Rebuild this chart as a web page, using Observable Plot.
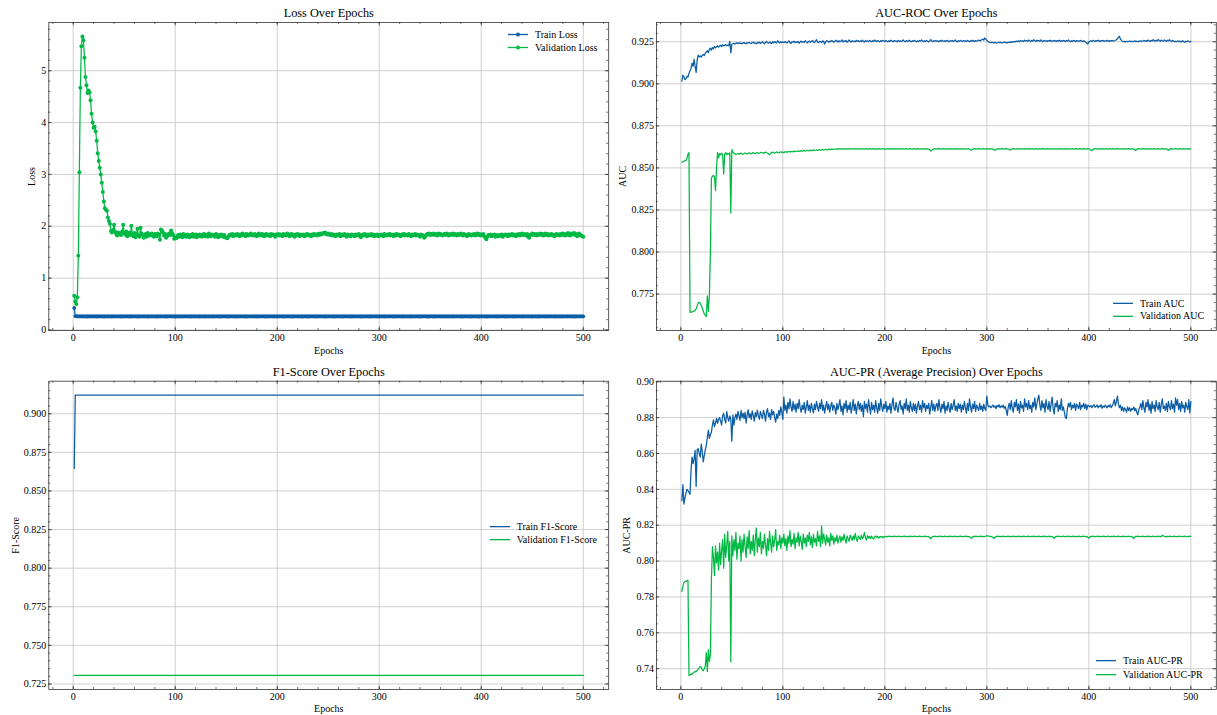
<!DOCTYPE html>
<html>
<head>
<meta charset="utf-8">
<script src="https://cdn.jsdelivr.net/npm/d3@7"></script>
<script src="https://cdn.jsdelivr.net/npm/@observablehq/plot@0.6"></script>
<style>
  body { margin: 0; background: #fff; }
  #fig { position: relative; width: 1217px; height: 715px; font-family: "Liberation Serif", "Times New Roman", serif; }
  .panel { position: absolute; }
  .legend { position: absolute; font-size: 10px; color: #000; }
  .legend .row { display: flex; align-items: center; white-space: nowrap; }
  .legend svg { display: block; }
</style>
</head>
<body>
<div id="fig"></div>
<script>
// ---- Training history (one value per epoch, epochs 1..500) ----

// Validation loss, in hundredths
const valLoss = [
66,55,50,63,143,304,467,547,566,559,525,488,472,457,462,458,443,417,400,390,392,383,365,341,326,
313,300,284,266,248,235,232,230,217,210,205,191,188,193,203,190,186,182,188,184,186,183,190,203,187,
184,190,181,186,188,183,201,185,181,187,179,184,195,182,180,197,186,183,178,181,185,180,187,182,184,
182,186,183,180,185,184,181,186,183,174,194,192,188,182,185,178,181,184,186,183,192,186,183,176,179,
177,181,183,180,184,182,179,185,181,183,180,184,182,179,183,181,185,180,182,184,179,183,181,184,182,
180,183,185,181,184,182,180,186,183,181,184,182,183,180,185,182,179,183,181,184,182,180,183,179,178,
177,180,183,184,182,185,181,183,184,182,185,183,181,184,182,186,183,184,181,185,183,182,184,186,183,
184,182,185,183,181,184,186,183,182,185,184,181,183,185,182,184,183,181,185,183,184,182,180,184,183,
185,182,184,183,181,185,183,184,182,186,183,181,184,185,182,183,180,184,182,185,183,181,184,183,182,
184,181,183,185,182,184,183,181,184,182,185,183,184,182,185,183,186,184,185,187,186,188,185,184,186,
184,183,185,182,184,183,181,184,182,183,185,181,183,184,182,185,183,180,184,182,183,181,184,182,183,
181,184,183,182,185,182,179,183,184,182,185,183,181,184,182,183,185,182,184,181,183,182,184,181,183,
182,184,183,181,185,183,182,184,183,185,182,184,183,181,184,182,185,183,184,182,181,184,183,185,182,
184,183,182,185,183,181,184,182,183,185,182,184,183,182,180,184,183,182,178,180,183,185,184,186,183,
185,184,186,183,185,184,182,186,184,185,183,182,184,185,183,186,184,182,185,183,184,186,183,185,184,
182,185,183,184,186,183,182,185,184,183,181,184,185,183,182,184,183,185,182,184,186,183,185,182,184,
183,185,181,178,175,180,183,182,184,181,183,182,184,180,183,182,181,183,182,184,180,183,182,184,183,
181,184,182,183,185,182,184,183,181,184,183,185,182,184,186,183,185,184,182,185,180,178,183,184,186,
183,185,184,182,185,183,184,186,183,185,182,184,186,183,185,182,184,183,185,182,183,181,184,185,183,
184,182,185,183,186,184,182,185,183,187,184,182,186,184,185,187,183,185,181,184,186,183,182,181,180
];

// Training loss, in thousandths
const trainLoss = [
426,268,266,264,263,262,264,261,263,262,261,263,262,260,262,263,261,262,264,261,262,263,260,262,261,
263,262,261,263,260,262,264,261,262,263,261,262,260,263,262,261,264,262,261,263,262,260,262,263,261,
262,264,261,262,263,260,262,261,263,262,264,261,262,260,263,262,261,263,262,261,264,262,260,262,263,
261,262,263,261,264,262,260,262,263,261,262,264,261,263,262,260,262,261,263,262,264,261,262,263,260,
262,261,263,262,264,260,262,263,261,262,263,261,264,262,260,263,262,261,262,264,261,263,262,260,262,
261,263,262,260,262,264,261,262,263,261,262,260,263,262,264,261,262,263,260,262,261,263,262,264,261,
262,260,263,261,262,264,262,261,263,260,262,263,261,262,264,261,263,262,260,262,263,261,264,262,261,
263,261,262,264,260,262,263,261,262,263,264,261,262,260,263,261,262,264,262,261,263,260,262,263,261,
262,263,261,264,262,260,262,263,261,262,264,261,263,262,260,262,261,263,264,262,261,262,263,260,262,
264,261,262,263,260,262,261,263,262,264,261,262,260,263,262,261,264,262,263,261,262,260,262,263,261,
262,264,261,263,262,260,261,263,262,264,262,261,263,260,262,261,263,262,264,261,262,263,260,262,263,
261,262,264,261,263,262,260,262,263,261,262,264,261,262,263,260,262,261,263,262,264,261,262,260,263,
262,261,263,262,260,264,262,261,263,262,261,263,264,260,262,263,261,262,264,261,262,263,260,262,261,
263,262,261,264,262,260,263,261,262,263,262,264,261,262,260,263,262,261,263,264,262,261,260,262,263,
261,263,262,260,262,264,261,263,262,261,263,262,260,264,262,261,262,263,261,262,264,260,262,263,261,
262,261,264,262,263,260,262,261,263,262,264,261,262,263,260,262,261,264,262,263,261,262,260,263,262,
264,262,261,263,262,260,262,264,261,263,262,261,262,264,260,263,262,261,263,262,264,261,262,260,262,
261,263,262,264,261,262,260,263,262,261,264,262,263,261,262,260,262,263,261,264,262,261,263,262,260,
262,264,261,262,263,260,262,261,264,262,263,261,262,260,263,262,264,261,262,263,261,262,260,264,262,
261,262,263,260,262,264,261,263,262,261,262,263,264,261,262,260,263,262,261,264,262,263,261,262,263
];

// Training AUC-ROC, in ten-thousandths
const trainAuc = [
9016,9052,9040,9025,9030,9045,9040,9062,9078,9091,9122,9105,9145,9102,9068,9140,9171,9160,9165,9158,9169,9175,9168,9182,9190,
9196,9185,9205,9212,9200,9215,9208,9222,9214,9219,9226,9218,9224,9229,9221,9232,9225,9228,9233,9227,9230,9226,9252,9183,9236,
9238,9241,9236,9240,9243,9239,9244,9240,9242,9238,9243,9245,9240,9238,9244,9241,9246,9242,9239,9244,9247,9241,9243,9238,9245,
9242,9248,9240,9244,9250,9243,9238,9246,9252,9244,9241,9247,9243,9239,9249,9244,9251,9245,9242,9256,9247,9243,9250,9245,9248,
9244,9251,9246,9242,9249,9255,9245,9240,9250,9247,9253,9244,9249,9246,9252,9241,9248,9254,9247,9250,9245,9256,9249,9243,9251,
9254,9247,9252,9258,9249,9245,9253,9262,9248,9244,9252,9250,9246,9255,9251,9236,9249,9257,9252,9247,9254,9250,9258,9253,9246,
9251,9259,9254,9248,9256,9250,9253,9261,9249,9255,9251,9257,9247,9253,9260,9252,9248,9256,9251,9254,9249,9258,9252,9256,9250,
9255,9251,9259,9253,9248,9257,9252,9255,9250,9258,9254,9249,9256,9252,9260,9254,9251,9257,9253,9249,9256,9252,9258,9254,9251,
9257,9253,9250,9256,9252,9259,9254,9250,9257,9253,9255,9249,9258,9252,9256,9251,9254,9260,9253,9250,9257,9252,9255,9259,9253,
9250,9256,9252,9258,9254,9249,9255,9251,9257,9253,9260,9254,9250,9256,9252,9258,9253,9249,9255,9262,9254,9250,9256,9253,9257,
9252,9255,9250,9257,9253,9259,9254,9251,9256,9252,9258,9254,9249,9256,9253,9257,9251,9255,9260,9253,9249,9256,9252,9258,9254,
9252,9257,9253,9255,9251,9258,9254,9250,9256,9252,9259,9255,9251,9257,9253,9256,9260,9255,9258,9262,9266,9259,9272,9265,9258,
9252,9248,9246,9244,9247,9245,9243,9246,9244,9242,9245,9247,9244,9246,9243,9245,9248,9244,9246,9243,9247,9245,9249,9246,9250,
9248,9252,9249,9253,9251,9255,9250,9258,9253,9256,9251,9259,9254,9257,9252,9260,9255,9251,9258,9253,9262,9256,9252,9259,9254,
9257,9252,9261,9255,9250,9258,9253,9256,9251,9257,9254,9259,9252,9256,9253,9258,9255,9251,9257,9253,9259,9254,9256,9252,9258,
9255,9251,9257,9253,9260,9254,9250,9256,9252,9258,9255,9251,9257,9253,9256,9252,9258,9254,9250,9256,9252,9247,9243,9236,9249,
9253,9256,9252,9258,9254,9251,9257,9253,9259,9255,9251,9257,9254,9258,9252,9256,9253,9259,9255,9251,9257,9254,9258,9253,9256,
9259,9262,9268,9275,9281,9266,9258,9253,9250,9252,9249,9253,9250,9252,9254,9251,9253,9250,9252,9255,9251,9253,9250,9254,9252,
9255,9251,9254,9258,9253,9257,9252,9260,9255,9251,9258,9254,9262,9257,9252,9259,9255,9263,9257,9252,9260,9256,9253,9261,9256,
9252,9259,9255,9262,9256,9251,9258,9254,9249,9253,9250,9255,9251,9254,9248,9252,9256,9250,9247,9253,9250,9255,9251,9248,9252
];

// Validation AUC-ROC, in ten-thousandths
const valAuc = [
8534,8536,8540,8543,8545,8556,8582,8591,7641,7643,7645,7646,7650,7655,7662,7680,7698,7702,7696,7683,7668,7650,7632,7624,7617,
7740,7648,7745,8010,8440,8450,8455,8448,8365,8500,8592,8560,8585,8578,8588,8575,8464,8583,8590,8578,8586,8582,8590,8232,8608,
8595,8588,8584,8580,8583,8586,8582,8585,8588,8584,8581,8586,8589,8585,8583,8587,8590,8586,8584,8588,8591,8587,8585,8589,8592,
8588,8586,8590,8593,8589,8587,8591,8594,8590,8588,8583,8578,8586,8591,8594,8590,8588,8592,8595,8591,8589,8593,8596,8592,8594,
8591,8595,8597,8593,8596,8598,8594,8597,8599,8595,8598,8600,8597,8599,8601,8598,8600,8603,8599,8601,8604,8600,8602,8605,8601,
8603,8606,8602,8604,8607,8603,8605,8608,8604,8606,8609,8605,8607,8610,8606,8608,8611,8607,8609,8612,8608,8610,8613,8609,8611,
8611,8612,8613,8612,8613,8614,8612,8613,8612,8614,8613,8612,8613,8614,8613,8612,8613,8614,8612,8613,8614,8613,8612,8613,8614,
8613,8612,8614,8613,8612,8613,8614,8613,8612,8614,8613,8612,8613,8614,8613,8612,8613,8612,8614,8613,8612,8613,8614,8612,8613,
8612,8613,8614,8613,8612,8613,8614,8612,8613,8614,8613,8612,8613,8614,8613,8612,8614,8613,8612,8613,8614,8613,8612,8613,8614,
8613,8612,8614,8613,8612,8613,8614,8613,8612,8613,8614,8612,8613,8614,8613,8612,8613,8612,8608,8600,8604,8611,8613,8614,8613,
8612,8613,8614,8613,8612,8613,8614,8613,8612,8614,8613,8612,8613,8614,8613,8612,8613,8614,8612,8613,8614,8613,8612,8613,8614,
8613,8612,8614,8613,8612,8613,8614,8612,8607,8605,8610,8613,8614,8613,8612,8613,8614,8613,8612,8613,8614,8613,8612,8613,8614,
8613,8612,8614,8613,8612,8613,8608,8604,8611,8613,8614,8613,8612,8613,8614,8613,8612,8613,8614,8613,8612,8608,8606,8612,8613,
8614,8613,8612,8613,8614,8613,8612,8613,8614,8612,8613,8614,8613,8612,8613,8614,8613,8612,8614,8613,8612,8613,8614,8613,8612,
8613,8614,8612,8613,8614,8613,8612,8613,8614,8613,8612,8614,8613,8612,8613,8614,8613,8612,8613,8614,8612,8613,8614,8613,8612,
8613,8614,8613,8612,8614,8613,8612,8613,8614,8613,8612,8613,8614,8612,8613,8614,8613,8612,8613,8614,8613,8612,8613,8614,8613,
8612,8606,8603,8610,8613,8614,8613,8612,8613,8614,8612,8613,8614,8613,8612,8613,8614,8613,8612,8614,8613,8612,8613,8614,8613,
8612,8613,8614,8613,8612,8613,8614,8612,8613,8614,8613,8612,8613,8614,8613,8612,8613,8614,8612,8607,8604,8611,8613,8614,8613,
8612,8613,8614,8613,8612,8613,8614,8613,8612,8614,8613,8612,8613,8614,8613,8612,8613,8614,8613,8612,8613,8614,8613,8612,8614,
8613,8608,8605,8612,8613,8614,8613,8612,8613,8614,8613,8612,8613,8614,8613,8612,8613,8614,8613,8612,8613,8614,8613,8612,8613
];

// Training F1-score, in ten-thousandths
const trainF1 = [
8645,9120,9120,9120,9120,9120,9120,9120,9120,9120,9120,9120,9120,9120,9120,9120,9120,9120,9120,9120,9120,9120,9120,9120,9120,
9120,9120,9120,9120,9120,9120,9120,9120,9120,9120,9120,9120,9120,9120,9120,9120,9120,9120,9120,9120,9120,9120,9120,9120,9120,
9120,9120,9120,9120,9120,9120,9120,9120,9120,9120,9120,9120,9120,9120,9120,9120,9120,9120,9120,9120,9120,9120,9120,9120,9120,
9120,9120,9120,9120,9120,9120,9120,9120,9120,9120,9120,9120,9120,9120,9120,9120,9120,9120,9120,9120,9120,9120,9120,9120,9120,
9120,9120,9120,9120,9120,9120,9120,9120,9120,9120,9120,9120,9120,9120,9120,9120,9120,9120,9120,9120,9120,9120,9120,9120,9120,
9120,9120,9120,9120,9120,9120,9120,9120,9120,9120,9120,9120,9120,9120,9120,9120,9120,9120,9120,9120,9120,9120,9120,9120,9120,
9120,9120,9120,9120,9120,9120,9120,9120,9120,9120,9120,9120,9120,9120,9120,9120,9120,9120,9120,9120,9120,9120,9120,9120,9120,
9120,9120,9120,9120,9120,9120,9120,9120,9120,9120,9120,9120,9120,9120,9120,9120,9120,9120,9120,9120,9120,9120,9120,9120,9120,
9120,9120,9120,9120,9120,9120,9120,9120,9120,9120,9120,9120,9120,9120,9120,9120,9120,9120,9120,9120,9120,9120,9120,9120,9120,
9120,9120,9120,9120,9120,9120,9120,9120,9120,9120,9120,9120,9120,9120,9120,9120,9120,9120,9120,9120,9120,9120,9120,9120,9120,
9120,9120,9120,9120,9120,9120,9120,9120,9120,9120,9120,9120,9120,9120,9120,9120,9120,9120,9120,9120,9120,9120,9120,9120,9120,
9120,9120,9120,9120,9120,9120,9120,9120,9120,9120,9120,9120,9120,9120,9120,9120,9120,9120,9120,9120,9120,9120,9120,9120,9120,
9120,9120,9120,9120,9120,9120,9120,9120,9120,9120,9120,9120,9120,9120,9120,9120,9120,9120,9120,9120,9120,9120,9120,9120,9120,
9120,9120,9120,9120,9120,9120,9120,9120,9120,9120,9120,9120,9120,9120,9120,9120,9120,9120,9120,9120,9120,9120,9120,9120,9120,
9120,9120,9120,9120,9120,9120,9120,9120,9120,9120,9120,9120,9120,9120,9120,9120,9120,9120,9120,9120,9120,9120,9120,9120,9120,
9120,9120,9120,9120,9120,9120,9120,9120,9120,9120,9120,9120,9120,9120,9120,9120,9120,9120,9120,9120,9120,9120,9120,9120,9120,
9120,9120,9120,9120,9120,9120,9120,9120,9120,9120,9120,9120,9120,9120,9120,9120,9120,9120,9120,9120,9120,9120,9120,9120,9120,
9120,9120,9120,9120,9120,9120,9120,9120,9120,9120,9120,9120,9120,9120,9120,9120,9120,9120,9120,9120,9120,9120,9120,9120,9120,
9120,9120,9120,9120,9120,9120,9120,9120,9120,9120,9120,9120,9120,9120,9120,9120,9120,9120,9120,9120,9120,9120,9120,9120,9120,
9120,9120,9120,9120,9120,9120,9120,9120,9120,9120,9120,9120,9120,9120,9120,9120,9120,9120,9120,9120,9120,9120,9120,9120,9120
];

// Validation F1-score, in ten-thousandths
const valF1 = [
7305,7305,7305,7305,7305,7305,7305,7305,7305,7305,7305,7305,7305,7305,7305,7305,7305,7305,7305,7305,7305,7305,7305,7305,7305,
7305,7305,7305,7305,7305,7305,7305,7305,7305,7305,7305,7305,7305,7305,7305,7305,7305,7305,7305,7305,7305,7305,7305,7305,7305,
7305,7305,7305,7305,7305,7305,7305,7305,7305,7305,7305,7305,7305,7305,7305,7305,7305,7305,7305,7305,7305,7305,7305,7305,7305,
7305,7305,7305,7305,7305,7305,7305,7305,7305,7305,7305,7305,7305,7305,7305,7305,7305,7305,7305,7305,7305,7305,7305,7305,7305,
7305,7305,7305,7305,7305,7305,7305,7305,7305,7305,7305,7305,7305,7305,7305,7305,7305,7305,7305,7305,7305,7305,7305,7305,7305,
7305,7305,7305,7305,7305,7305,7305,7305,7305,7305,7305,7305,7305,7305,7305,7305,7305,7305,7305,7305,7305,7305,7305,7305,7305,
7305,7305,7305,7305,7305,7305,7305,7305,7305,7305,7305,7305,7305,7305,7305,7305,7305,7305,7305,7305,7305,7305,7305,7305,7305,
7305,7305,7305,7305,7305,7305,7305,7305,7305,7305,7305,7305,7305,7305,7305,7305,7305,7305,7305,7305,7305,7305,7305,7305,7305,
7305,7305,7305,7305,7305,7305,7305,7305,7305,7305,7305,7305,7305,7305,7305,7305,7305,7305,7305,7305,7305,7305,7305,7305,7305,
7305,7305,7305,7305,7305,7305,7305,7305,7305,7305,7305,7305,7305,7305,7305,7305,7305,7305,7305,7305,7305,7305,7305,7305,7305,
7305,7305,7305,7305,7305,7305,7305,7305,7305,7305,7305,7305,7305,7305,7305,7305,7305,7305,7305,7305,7305,7305,7305,7305,7305,
7305,7305,7305,7305,7305,7305,7305,7305,7305,7305,7305,7305,7305,7305,7305,7305,7305,7305,7305,7305,7305,7305,7305,7305,7305,
7305,7305,7305,7305,7305,7305,7305,7305,7305,7305,7305,7305,7305,7305,7305,7305,7305,7305,7305,7305,7305,7305,7305,7305,7305,
7305,7305,7305,7305,7305,7305,7305,7305,7305,7305,7305,7305,7305,7305,7305,7305,7305,7305,7305,7305,7305,7305,7305,7305,7305,
7305,7305,7305,7305,7305,7305,7305,7305,7305,7305,7305,7305,7305,7305,7305,7305,7305,7305,7305,7305,7305,7305,7305,7305,7305,
7305,7305,7305,7305,7305,7305,7305,7305,7305,7305,7305,7305,7305,7305,7305,7305,7305,7305,7305,7305,7305,7305,7305,7305,7305,
7305,7305,7305,7305,7305,7305,7305,7305,7305,7305,7305,7305,7305,7305,7305,7305,7305,7305,7305,7305,7305,7305,7305,7305,7305,
7305,7305,7305,7305,7305,7305,7305,7305,7305,7305,7305,7305,7305,7305,7305,7305,7305,7305,7305,7305,7305,7305,7305,7305,7305,
7305,7305,7305,7305,7305,7305,7305,7305,7305,7305,7305,7305,7305,7305,7305,7305,7305,7305,7305,7305,7305,7305,7305,7305,7305,
7305,7305,7305,7305,7305,7305,7305,7305,7305,7305,7305,7305,7305,7305,7305,7305,7305,7305,7305,7305,7305,7305,7305,7305,7305
];

// Training AUC-PR, in ten-thousandths
const trainPr = [
8337,8427,8318,8350,8378,8400,8393,8384,8372,8506,8580,8543,8570,8618,8416,8620,8627,8600,8580,8652,8610,8553,8590,8620,8646,
8690,8730,8684,8705,8720,8760,8787,8750,8770,8796,8768,8790,8800,8780,8758,8810,8824,8790,8770,8833,8800,8780,8810,8790,8669,
8815,8758,8800,8820,8790,8835,8810,8785,8840,8800,8825,8795,8830,8770,8815,8845,8800,8822,8790,8838,8812,8780,8828,8806,8842,
8810,8790,8835,8815,8795,8840,8820,8780,8830,8850,8805,8825,8790,8845,8815,8835,8800,8775,8820,8795,8840,8812,8860,8830,8790,
8915,8840,8870,8825,8885,8850,8905,8860,8835,8890,8845,8875,8830,8880,8850,8900,8855,8830,8870,8845,8885,8825,8860,8895,8840,
8870,8830,8880,8850,8825,8875,8845,8890,8860,8835,8880,8850,8900,8840,8870,8825,8860,8890,8845,8875,8830,8865,8885,8840,8870,
8855,8820,8880,8845,8870,8900,8835,8865,8815,8880,8850,8895,8830,8870,8845,8885,8825,8860,8900,8840,8875,8820,8865,8890,8845,
8880,8835,8870,8805,8890,8850,8875,8830,8900,8860,8820,8885,8845,8870,8830,8895,8855,8825,8880,8840,8905,8860,8835,8875,8850,
8890,8830,8865,8845,8880,8825,8870,8910,8850,8840,8885,8855,8830,8875,8895,8845,8865,8820,8880,8850,8905,8840,8870,8830,8890,
8855,8835,8880,8840,8875,8825,8865,8890,8845,8870,8830,8895,8855,8880,8835,8870,8850,8880,8820,8860,8895,8840,8875,8835,8865,
8880,8840,8900,8855,8830,8875,8850,8890,8825,8865,8840,8885,8855,8830,8880,8845,8870,8900,8840,8865,8835,8880,8850,8875,8830,
8870,8845,8890,8855,8825,8880,8840,8905,8860,8830,8875,8850,8890,8835,8870,8855,8840,8880,8845,8865,8835,8875,8850,8840,8920,
8870,8860,8865,8855,8862,8870,8858,8865,8850,8868,8860,8872,8855,8865,8858,8870,8852,8862,8840,8812,8860,8880,8845,8895,8850,
8830,8885,8860,8900,8840,8875,8825,8890,8855,8870,8835,8905,8860,8880,8845,8895,8850,8870,8830,8885,8860,8910,8845,8875,8905,
8925,8870,8840,8895,8855,8880,8830,8900,8865,8845,8890,8835,8875,8915,8850,8820,8880,8860,8895,8835,8870,8845,8905,8840,8860,
8830,8800,8796,8850,8880,8860,8885,8845,8870,8855,8880,8840,8875,8865,8850,8885,8845,8870,8860,8880,8850,8875,8845,8870,8865,
8860,8868,8855,8865,8872,8858,8862,8870,8855,8866,8860,8872,8852,8865,8858,8870,8862,8855,8868,8860,8872,8856,8866,8880,8900,
8865,8890,8920,8875,8855,8870,8840,8860,8835,8855,8845,8830,8860,8840,8855,8835,8850,8845,8860,8838,8852,8830,8815,8845,8858,
8880,8845,8895,8855,8830,8885,8860,8900,8840,8875,8825,8890,8850,8870,8835,8895,8860,8845,8885,8830,8875,8905,8850,8865,8840,
8880,8835,8890,8860,8845,8895,8850,8875,8830,8910,8870,8900,8845,8880,8835,8890,8855,8870,8830,8885,8860,8845,8900,8826,8889
];

// Validation AUC-PR, in ten-thousandths
const valPr = [
7831,7860,7878,7885,7888,7890,7892,7362,7365,7370,7368,7375,7380,7385,7382,7390,7398,7405,7412,7408,7395,7388,7400,7415,7490,
7385,7505,7440,7480,7900,8080,8020,7920,8085,7990,8050,7950,8100,7980,8060,8120,7960,8150,8020,8090,8165,8000,8110,7438,8140,
8030,8120,8060,8160,8010,8100,8070,8140,8000,8120,8050,8150,8080,8020,8135,8070,8170,8040,8110,8060,8145,8030,8120,8185,8050,
8130,8080,8160,8040,8110,8070,8150,8090,8030,8125,8060,8165,8100,8050,8140,8080,8120,8175,8060,8110,8090,8145,8070,8130,8100,
8150,8085,8125,8060,8140,8100,8170,8080,8120,8095,8155,8070,8130,8105,8160,8085,8140,8110,8065,8150,8100,8130,8080,8145,8110,
8160,8090,8135,8075,8150,8105,8125,8085,8165,8110,8140,8080,8196,8100,8150,8120,8090,8145,8105,8130,8085,8155,8115,8140,8095,
8130,8110,8145,8100,8125,8140,8105,8135,8115,8150,8120,8100,8140,8125,8110,8145,8130,8115,8140,8120,8155,8125,8110,8140,8130,
8120,8145,8125,8135,8160,8130,8118,8142,8128,8138,8125,8140,8130,8122,8135,8140,8132,8137,8128,8136,8134,8138,8130,8136,8135,
8137,8138,8136,8139,8137,8138,8136,8137,8139,8138,8136,8137,8138,8139,8137,8136,8138,8137,8139,8138,8136,8137,8138,8137,8139,
8138,8136,8137,8139,8138,8137,8136,8138,8139,8137,8138,8136,8137,8139,8138,8137,8136,8138,8130,8124,8132,8137,8138,8139,8137,
8136,8138,8137,8139,8138,8136,8137,8138,8139,8137,8136,8138,8137,8139,8138,8136,8137,8138,8139,8137,8136,8138,8137,8139,8138,
8137,8136,8138,8139,8137,8138,8136,8137,8130,8127,8134,8138,8137,8139,8138,8136,8137,8138,8139,8137,8138,8136,8137,8139,8140,
8141,8139,8138,8137,8136,8132,8126,8133,8137,8138,8139,8137,8136,8138,8137,8139,8138,8136,8137,8138,8139,8137,8136,8138,8137,
8139,8138,8136,8137,8138,8139,8137,8136,8138,8137,8139,8138,8136,8137,8138,8139,8137,8136,8138,8137,8139,8138,8136,8137,8138,
8139,8137,8136,8138,8137,8139,8138,8136,8137,8138,8139,8137,8136,8138,8131,8127,8135,8138,8137,8139,8138,8136,8137,8138,8139,
8137,8136,8138,8137,8139,8138,8136,8137,8138,8139,8137,8136,8138,8137,8139,8138,8136,8137,8138,8139,8137,8136,8138,8131,8128,
8135,8138,8137,8139,8138,8136,8137,8138,8139,8137,8136,8138,8137,8139,8138,8136,8137,8138,8139,8137,8136,8138,8137,8139,8138,
8136,8137,8138,8139,8137,8136,8138,8137,8139,8138,8136,8137,8138,8139,8137,8136,8138,8132,8126,8134,8138,8137,8139,8138,8136,
8137,8138,8139,8137,8136,8138,8137,8139,8138,8136,8137,8138,8139,8137,8136,8138,8137,8139,8138,8136,8137,8144,8141,8138,8137,
8136,8138,8137,8139,8138,8136,8137,8138,8139,8137,8136,8138,8137,8139,8138,8136,8137,8138,8139,8137,8136,8138,8137,8139,8138
];

// Axis ticks
const xTicks = [0, 100, 200, 300, 400, 500];
const lossTicks = [0, 1, 2, 3, 4, 5];
const aucTicks = [0.775, 0.800, 0.825, 0.850, 0.875, 0.900, 0.925];
const f1Ticks = [0.725, 0.750, 0.775, 0.800, 0.825, 0.850, 0.875, 0.900];
const prTicks = [0.74, 0.76, 0.78, 0.80, 0.82, 0.84, 0.86, 0.88, 0.90];

// ---- Styling ----
const BLUE = "#0C5DA5";
const GREEN = "#00B945";
const GRID = "#c4c4c4";
const AXIS = "#333";
const FONT = "'Liberation Serif', 'Times New Roman', serif";
const LINE_W = 1.25;

const fig = document.getElementById("fig");

// Positions of the whole epoch range, padded by 5% like the source figure
const xDomain = [1 - 0.05 * 499, 500 + 0.05 * 499];

function multiples(domain, step) {
  const k0 = Math.ceil(domain[0] / step - 1e-9), k1 = Math.floor(domain[1] / step + 1e-9);
  return d3.range(k0, k1 + 1).map(k => +(k * step).toFixed(6));
}

function panel(cfg) {
  const {left, top, width, height, margins, series, yTicks, yMinorStep, yFormat, title, ylabel, ylabelDx, xlabelDy} = cfg;
  const [mt, mr, mb, ml] = margins;
  const all = series.flatMap(s => s.values);
  const lo = d3.min(all), hi = d3.max(all), pad = (hi - lo) * 0.05;
  const yDomain = [lo - pad, hi + pad];
  const innerW = width - ml - mr, innerH = height - mt - mb;
  const ux = (xDomain[1] - xDomain[0]) / innerW;   // data units per pixel
  const uy = (yDomain[1] - yDomain[0]) / innerH;
  const xMajor = xTicks.filter(t => t >= xDomain[0] && t <= xDomain[1]);
  const yMajor = yTicks.filter(t => t >= yDomain[0] && t <= yDomain[1]);
  const xMinor = multiples(xDomain, 20);
  const yMinor = multiples(yDomain, yMinorStep);
  const big = 3.5, small = 2;
  const tickStyle = {stroke: AXIS, strokeWidth: 0.7};

  const marks = [
    Plot.gridX(xMajor, {stroke: GRID, strokeOpacity: 1, strokeWidth: 0.8}),
    Plot.gridY(yMajor, {stroke: GRID, strokeOpacity: 1, strokeWidth: 0.8})
  ];
  for (const s of series) {
    marks.push(Plot.lineY(s.values, {x: (d, i) => i + 1, y: d => d, stroke: s.color, strokeWidth: LINE_W}));
    if (s.dots) marks.push(Plot.dot(s.values, {x: (d, i) => i + 1, y: d => d, r: s.dots, fill: s.color, stroke: null}));
  }
  marks.push(
    Plot.frame({stroke: AXIS, strokeWidth: 0.8}),
    // inward ticks on all four sides
    Plot.ruleX(xMajor, {x: d => d, y1: yDomain[0], y2: yDomain[0] + big * uy, ...tickStyle}),
    Plot.ruleX(xMajor, {x: d => d, y1: yDomain[1], y2: yDomain[1] - big * uy, ...tickStyle}),
    Plot.ruleX(xMinor, {x: d => d, y1: yDomain[0], y2: yDomain[0] + small * uy, ...tickStyle}),
    Plot.ruleX(xMinor, {x: d => d, y1: yDomain[1], y2: yDomain[1] - small * uy, ...tickStyle}),
    Plot.ruleY(yMajor, {y: d => d, x1: xDomain[0], x2: xDomain[0] + big * ux, ...tickStyle}),
    Plot.ruleY(yMajor, {y: d => d, x1: xDomain[1], x2: xDomain[1] - big * ux, ...tickStyle}),
    Plot.ruleY(yMinor, {y: d => d, x1: xDomain[0], x2: xDomain[0] + small * ux, ...tickStyle}),
    Plot.ruleY(yMinor, {y: d => d, x1: xDomain[1], x2: xDomain[1] - small * ux, ...tickStyle}),
    Plot.axisX(xMajor, {tickSize: 0, tickPadding: 3, fontSize: 10, label: null, tickFormat: d3.format("d")}),
    Plot.axisY(yMajor, {tickSize: 0, tickPadding: 2.5, fontSize: 10, label: null, tickFormat: yFormat}),
    Plot.text([title], {text: d => d, frameAnchor: "top", lineAnchor: "middle", textAnchor: "middle", dy: -9.5, fontSize: 12.3}),
    Plot.text(["Epochs"], {text: d => d, frameAnchor: "bottom", lineAnchor: "middle", textAnchor: "middle", dy: xlabelDy, fontSize: 10}),
    Plot.text([ylabel], {text: d => d, frameAnchor: "left", lineAnchor: "middle", textAnchor: "middle", dx: ylabelDx, rotate: -90, fontSize: 10})
  );

  const svg = Plot.plot({
    width, height,
    marginTop: mt, marginRight: mr, marginBottom: mb, marginLeft: ml,
    x: {domain: xDomain},
    y: {domain: yDomain},
    style: {fontFamily: FONT, fontSize: "10px", background: "transparent", color: "#000"},
    marks
  });
  svg.classList.add("panel");
  svg.style.left = left + "px";
  svg.style.top = top + "px";
  fig.appendChild(svg);
}

function legend(x, yFirst, rowH, gap, items) {
  const div = document.createElement("div");
  div.className = "legend";
  div.style.left = x + "px";
  div.style.top = (yFirst - rowH / 2) + "px";
  for (const it of items) {
    const row = document.createElement("div");
    row.className = "row";
    row.style.height = rowH + "px";
    const dot = it.dot ? `<circle cx="10" cy="${rowH / 2}" r="${it.dot}" fill="${it.color}"/>` : "";
    row.innerHTML = `<svg width="20" height="${rowH}"><line x1="0" x2="20" y1="${rowH / 2}" y2="${rowH / 2}" stroke="${it.color}" stroke-width="1.3"/>${dot}</svg><span style="margin-left:${gap}px">${it.label}</span>`;
    div.appendChild(row);
  }
  fig.appendChild(div);
}

const scaleBy = (arr, k) => arr.map(v => v / k);

// Loss
panel({
  left: 0, top: 0, width: 612, height: 360, margins: [22, 3.8, 30, 48.3],
  series: [
    {values: scaleBy(trainLoss, 1000), color: BLUE, dots: 1.9},
    {values: scaleBy(valLoss, 100), color: GREEN, dots: 2}
  ],
  yTicks: lossTicks, yMinorStep: 0.2, yFormat: d3.format("d"),
  title: "Loss Over Epochs", ylabel: "Loss", ylabelDx: -16.6, xlabelDy: 20
});
legend(507.7, 34, 13, 7.3, [
  {label: "Train Loss", color: BLUE, dot: 2},
  {label: "Validation Loss", color: GREEN, dot: 2}
]);

// AUC-ROC
panel({
  left: 612, top: 0, width: 605, height: 360, margins: [22, 1.2, 30, 43.9],
  series: [
    {values: scaleBy(trainAuc, 10000), color: BLUE},
    {values: scaleBy(valAuc, 10000), color: GREEN}
  ],
  yTicks: aucTicks, yMinorStep: 0.005, yFormat: d3.format(".3f"),
  title: "AUC-ROC Over Epochs", ylabel: "AUC", ylabelDx: -33.6, xlabelDy: 20
});
legend(1112.7, 303.3, 12.7, 7.3, [
  {label: "Train AUC", color: BLUE},
  {label: "Validation AUC", color: GREEN}
]);

// F1-score
panel({
  left: 0, top: 360, width: 612, height: 355, margins: [20.7, 3.8, 26, 48.3],
  series: [
    {values: scaleBy(trainF1, 10000), color: BLUE},
    {values: scaleBy(valF1, 10000), color: GREEN}
  ],
  yTicks: f1Ticks, yMinorStep: 0.005, yFormat: d3.format(".3f"),
  title: "F1-Score Over Epochs", ylabel: "F1-Score", ylabelDx: -33.3, xlabelDy: 19
});
legend(490, 526.7, 13.3, 6.7, [
  {label: "Train F1-Score", color: BLUE},
  {label: "Validation F1-Score", color: GREEN}
]);

// AUC-PR
panel({
  left: 612, top: 360, width: 605, height: 355, margins: [20.7, 1.2, 26, 43.9],
  series: [
    {values: scaleBy(trainPr, 10000), color: BLUE},
    {values: scaleBy(valPr, 10000), color: GREEN}
  ],
  yTicks: prTicks, yMinorStep: 0.005, yFormat: d3.format(".2f"),
  title: "AUC-PR (Average Precision) Over Epochs", ylabel: "AUC-PR", ylabelDx: -29.2, xlabelDy: 19
});
legend(1096, 661, 13.3, 7, [
  {label: "Train AUC-PR", color: BLUE},
  {label: "Validation AUC-PR", color: GREEN}
]);
</script>
</body>
</html>
